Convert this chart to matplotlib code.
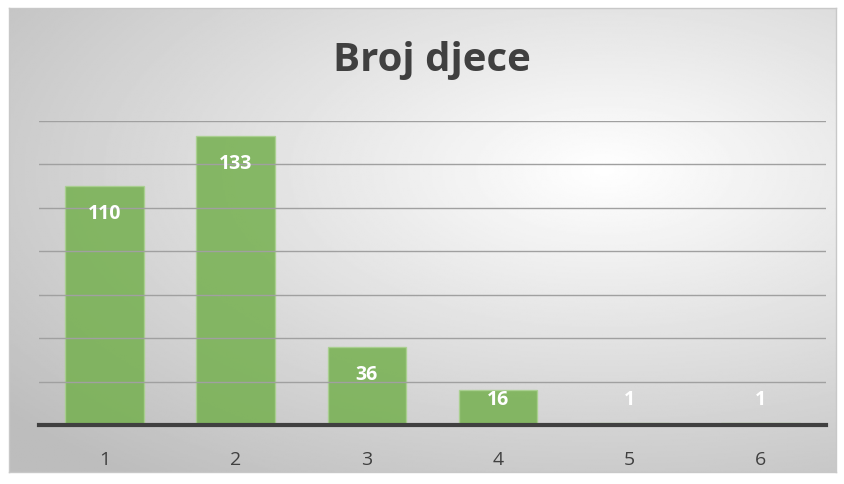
import numpy as np
import matplotlib
matplotlib.use("Agg")
import matplotlib.pyplot as plt

categories = ["1", "2", "3", "4", "5", "6"]
counts = [110, 133, 36, 16, 1, 1]
title = "Broj djece"

W, H = 845, 484
fig = plt.figure(figsize=(W / 100, H / 100), dpi=100)
fig.patch.set_facecolor("white")

# radial gradient background behind the chart
bg = fig.add_axes([9 / W, 12 / H, 827 / W, 464 / H], zorder=0)
yy, xx = np.mgrid[0:1:300j, 0:1:500j]
r = np.sqrt(((xx - 0.72) / 0.9) ** 2 + ((yy - 0.35) / 0.8) ** 2)
shade = np.clip(1.0 - 0.25 * r, 0.74, 1.0)
bg.imshow(shade, cmap="gray", vmin=0, vmax=1, aspect="auto", extent=[0, 1, 1, 0])
bg.set_xticks([])
bg.set_yticks([])
for s in bg.spines.values():
    s.set_color("#c8c8c8")
    s.set_linewidth(1)

ax = fig.add_axes([39 / W, 1 - 425 / H, 787 / W, 304 / H], zorder=1)
ax.patch.set_alpha(0)
x = np.arange(len(categories))
bars = ax.bar(x, counts, width=0.6, color="#75b04f", alpha=0.85,
              edgecolor="#a9d18e", linewidth=1, zorder=2)
ax.set_xlim(-0.5, len(categories) - 0.5)
ax.set_ylim(0, 140)
ax.set_yticks(np.arange(20, 141, 20))
ax.yaxis.grid(True, color="#a0a0a0", linewidth=1, zorder=3)
ax.set_axisbelow(False)
ax.tick_params(axis="y", left=False, labelleft=False)
ax.tick_params(axis="x", bottom=False, pad=15)
ax.set_xticks(x)
ax.set_xticklabels(categories, fontsize=14, color="#404040", family="Open Sans")
for s in ["top", "right", "left"]:
    ax.spines[s].set_visible(False)
ax.spines["bottom"].set_color("#404040")
ax.spines["bottom"].set_linewidth(3)
ax.spines["bottom"].set_zorder(4)

# labels sit inside the bar top, but never lower than just above the axis
for b, v in zip(bars, counts):
    ly = max(v - 12.9, 11.5)
    ax.text(b.get_x() + b.get_width() / 2, ly, str(v), ha="center", va="center",
            color="white", fontsize=14, fontweight="bold",
            family="Open Sans", zorder=5)

fig.text(432 / W, 1 - 60 / H, title, ha="center", va="center", fontsize=29,
         fontweight="bold", color="#404040", family="Open Sans")

fig.savefig("out.png", dpi=100)
